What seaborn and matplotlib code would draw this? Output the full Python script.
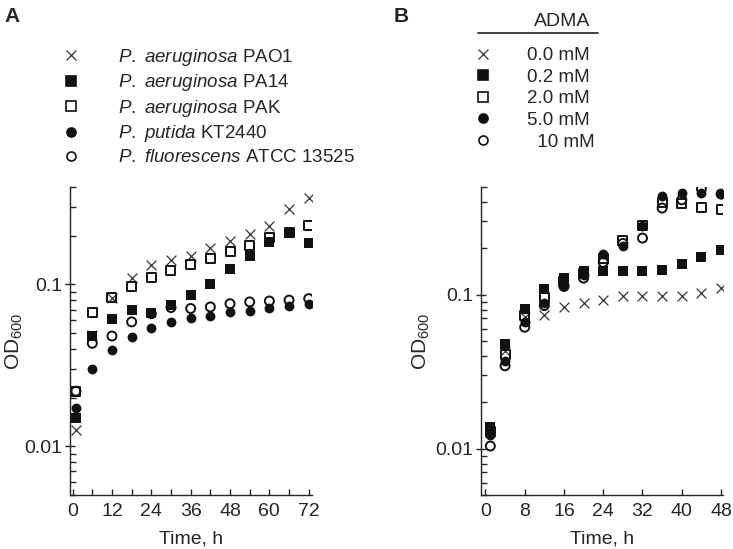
import matplotlib
matplotlib.use("Agg")
import matplotlib.pyplot as plt
import seaborn as sns
from matplotlib import ticker
from matplotlib.lines import Line2D

# --- panel A: Pseudomonas strains ---
time_a = [1, 6, 12, 18, 24, 30, 36, 42, 48, 54, 60, 66, 72]
pao1 = [0.0126, 0.049, 0.083, 0.110, 0.131, 0.141, 0.149, 0.168, 0.186, 0.206, 0.231, 0.291, 0.340]
pa14 = [0.0149, 0.048, 0.061, 0.0695, 0.0664, 0.0743, 0.0857, 0.101, 0.124, 0.149, 0.182, 0.207, 0.180]
pak = [0.0217, 0.067, 0.083, 0.0977, 0.110, 0.122, 0.133, 0.144, 0.159, 0.175, 0.196, 0.209, 0.232]
kt2440 = [0.0173, 0.0301, 0.0395, 0.0475, 0.0537, 0.0587, 0.0618, 0.064, 0.068, 0.069, 0.072, 0.0736, 0.076]
atcc13525 = [0.0219, 0.0433, 0.048, 0.0587, 0.066, 0.072, 0.071, 0.0726, 0.076, 0.078, 0.079, 0.080, 0.0817]
strain_labels = [r"$\mathit{P.}$ $\mathit{aeruginosa}$ PAO1",
                 r"$\mathit{P.}$ $\mathit{aeruginosa}$ PA14",
                 r"$\mathit{P.}$ $\mathit{aeruginosa}$ PAK",
                 r"$\mathit{P.}$ $\mathit{putida}$ KT2440",
                 r"$\mathit{P.}$ $\mathit{fluorescens}$ ATCC 13525"]

# --- panel B: ADMA concentrations ---
time_b = [1, 4, 8, 12, 16, 20, 24, 28, 32, 36, 40, 44, 48]
adma_00 = [0.0128, 0.043, 0.072, 0.0738, 0.0828, 0.0883, 0.0928, 0.0976, 0.098, 0.098, 0.098, 0.1025, 0.110]
adma_02 = [0.0138, 0.0478, 0.0807, 0.109, 0.128, 0.143, 0.142, 0.142, 0.142, 0.1455, 0.158, 0.175, 0.195]
adma_20 = [0.0130, 0.041, 0.073, 0.096, 0.122, 0.138, 0.171, 0.224, 0.280, 0.395, 0.389, 0.370, 0.357]
adma_50 = [0.0122, 0.0372, 0.066, 0.088, 0.115, 0.135, 0.184, 0.208, 0.280, 0.440, 0.459, 0.459, 0.452]
adma_10 = [0.0104, 0.0345, 0.0614, 0.085, 0.113, 0.128, 0.162, 0.215, 0.233, 0.365, 0.413, 0.487, 0.450]
adma_labels = ["0.0 mM", "0.2 mM", "2.0 mM", "5.0 mM", "\u200710 mM"]

# marker, filled
styles = [("x", True), ("s", True), ("s", False), ("o", True), ("o", False)]

sns.set_style("ticks")
plt.rcParams["font.family"] = ["Liberation Sans", "DejaVu Sans"]
plt.rcParams["mathtext.fontset"] = "custom"
plt.rcParams["mathtext.rm"] = "Liberation Sans"
plt.rcParams["mathtext.it"] = "Liberation Sans:italic"
plt.rcParams["axes.linewidth"] = 1.0

fig = plt.figure(figsize=(7.33, 5.49), dpi=100)
ax_a = fig.add_axes([70 / 733, 1 - 495 / 549, 242 / 733, 308 / 549])
ax_b = fig.add_axes([481 / 733, 1 - 495 / 549, 242 / 733, 308 / 549])


def draw_series(ax, t, y, marker, filled):
    if marker == "x":
        sns.scatterplot(x=t, y=y, ax=ax, marker="x", color="#333333", s=50, linewidth=0.9)
    elif filled:
        sns.scatterplot(x=t, y=y, ax=ax, marker=marker, color="#111111", s=50, linewidth=0)
    else:
        sns.scatterplot(x=t, y=y, ax=ax, marker=marker, facecolor="none", edgecolor="#111111",
                        s=42, linewidth=1.4)


def legend_handles():
    hs = []
    for m, f in styles:
        if m == "x":
            hs.append(Line2D([], [], ls="none", marker="x", color="#333333", ms=6.5, mew=0.9))
        else:
            hs.append(Line2D([], [], ls="none", marker=m, ms=6.5,
                             mfc="#111111" if f else "none", mec="#111111", mew=1.2))
    return hs


for y, (m, f) in zip([pao1, pa14, pak, kt2440, atcc13525], styles):
    draw_series(ax_a, time_a, y, m, f)
for y, (m, f) in zip([adma_00, adma_02, adma_20, adma_50, adma_10], styles):
    draw_series(ax_b, time_b, y, m, f)

for ax, xlim, ylim, lab_x in [(ax_a, (-0.8, 73), (0.005, 0.4), -0.232),
                              (ax_b, (-0.9, 48.4), (0.005, 0.5), -0.245)]:
    ax.set_yscale("log")
    ax.set_xlim(*xlim)
    ax.set_ylim(*ylim)
    sns.despine(ax=ax)
    ax.yaxis.set_major_locator(ticker.FixedLocator([0.01, 0.1]))
    ax.yaxis.set_major_formatter(ticker.FixedFormatter(["0.01", "0.1"]))
    ax.yaxis.set_minor_locator(ticker.LogLocator(base=10, subs=range(2, 10), numticks=20))
    ax.yaxis.set_minor_formatter(ticker.NullFormatter())
    ax.tick_params(axis="y", which="major", direction="inout", length=7, width=1.0,
                   labelsize=14, pad=2)
    ax.tick_params(axis="y", which="minor", direction="in", length=4, width=1.0)
    ax.tick_params(axis="x", which="both", direction="in", length=4, width=1.0,
                   labelsize=14, pad=6)
    ax.set_xlabel("Time, h", fontsize=14, labelpad=7)
    ax.set_ylabel(r"OD$_\mathregular{600}$", fontsize=15, va="center")
    ax.yaxis.set_label_coords(lab_x, 0.5)

ax_a.xaxis.set_major_locator(ticker.MultipleLocator(12))
ax_a.xaxis.set_minor_locator(ticker.MultipleLocator(6))
ax_b.xaxis.set_major_locator(ticker.MultipleLocator(8))
ax_b.xaxis.set_minor_locator(ticker.NullLocator())

# legends
ax_a.legend(legend_handles(), strain_labels, loc="upper left",
            bbox_to_anchor=(62 / 733, 1 - 47 / 549), bbox_transform=fig.transFigure,
            frameon=False, fontsize=13.5, handlelength=1.0, handletextpad=2.0,
            labelspacing=0.24, borderpad=0, borderaxespad=0)
ax_b.legend(legend_handles(), adma_labels, loc="upper left",
            bbox_to_anchor=(474 / 733, 1 - 47 / 549), bbox_transform=fig.transFigure,
            frameon=False, fontsize=13.5, handlelength=1.0, handletextpad=1.85,
            labelspacing=0.24, borderpad=0, borderaxespad=0)

fig.text(590 / 733, 1 - 21 / 549, "ADMA", ha="right", va="center", fontsize=14)
fig.add_artist(Line2D([478 / 733, 598 / 733], [1 - 33 / 549, 1 - 33 / 549],
                      transform=fig.transFigure, color="#333333", lw=1.3))

fig.text(4 / 733, 1 - 17 / 549, "A", fontsize=15, fontweight="bold", ha="left", va="center")
fig.text(394 / 733, 1 - 17 / 549, "B", fontsize=15, fontweight="bold", ha="left", va="center")

fig.savefig("out.png", dpi=100)
